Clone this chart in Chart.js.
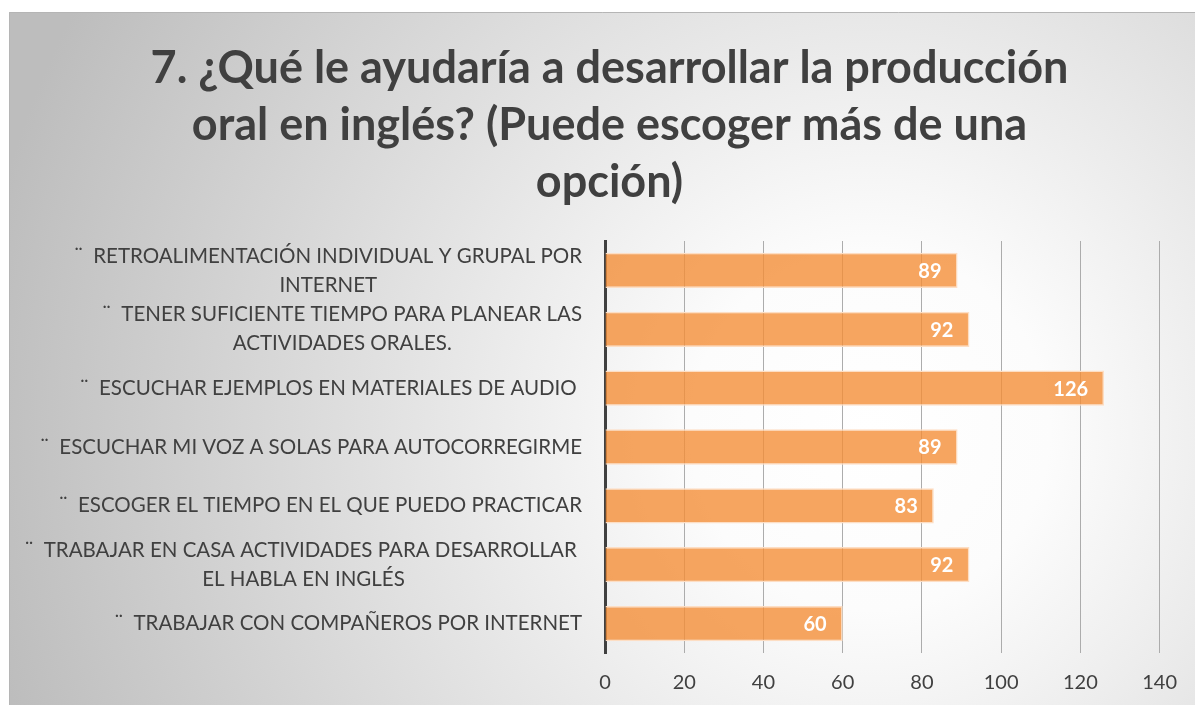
<!DOCTYPE html>
<html>
<head>
<meta charset="utf-8">
<script src="https://cdn.jsdelivr.net/npm/chart.js@4/dist/chart.umd.min.js"></script>
<style>
html,body{margin:0;padding:0;background:#fff;}
#wrap{width:1195px;height:705px;position:relative;}
</style>
</head>
<body>
<div id="wrap"><canvas id="c" width="1195" height="705"></canvas></div>
<script>
const titleLines = ["7. ¿Qué le ayudaría a desarrollar la producción", "oral en inglés? (Puede escoger más de una", "opción)"];
const categories = [
  ["¨  RETROALIMENTACIÓN INDIVIDUAL Y GRUPAL POR", "INTERNET"],
  ["¨  TENER SUFICIENTE TIEMPO PARA PLANEAR LAS", "ACTIVIDADES ORALES."],
  ["¨  ESCUCHAR EJEMPLOS EN MATERIALES DE AUDIO "],
  ["¨  ESCUCHAR MI VOZ A SOLAS PARA AUTOCORREGIRME"],
  ["¨  ESCOGER EL TIEMPO EN EL QUE PUEDO PRACTICAR"],
  ["¨  TRABAJAR EN CASA ACTIVIDADES PARA DESARROLLAR ", "EL HABLA EN INGLÉS"],
  ["¨  TRABAJAR CON COMPAÑEROS POR INTERNET"]
];
const values = [89, 92, 126, 89, 83, 92, 60];
const xTicks = [0, 20, 40, 60, 80, 100, 120, 140];

const FONT = "Lato";
const TEXT = "#404040";

const bgPlugin = {
  id: 'bg',
  beforeDraw(chart) {
    const ctx = chart.ctx;
    ctx.save();
    ctx.fillStyle = '#ffffff';
    ctx.fillRect(0, 0, chart.width, chart.height);
    const g = ctx.createRadialGradient(870, 430, 0, 870, 430, 900);
    g.addColorStop(0, '#ffffff');
    g.addColorStop(0.2, '#fcfcfc');
    g.addColorStop(1, '#bdbdbd');
    ctx.fillStyle = g;
    ctx.fillRect(9, 12, chart.width - 9, chart.height - 12);
    ctx.strokeStyle = '#b5b5b5';
    ctx.lineWidth = 1;
    ctx.beginPath();
    ctx.moveTo(9.5, chart.height);
    ctx.lineTo(9.5, 12.5);
    ctx.lineTo(chart.width, 12.5);
    ctx.stroke();
    ctx.restore();
  }
};

const yLabelPlugin = {
  id: 'ylabels',
  afterDraw(chart) {
    const ctx = chart.ctx;
    const ys = chart.scales.y;
    const right = chart.chartArea.left - 23;
    const lh = 29;
    ctx.save();
    ctx.font = "20.5px " + FONT;
    ctx.fillStyle = TEXT;
    ctx.textAlign = 'center';
    ctx.textBaseline = 'middle';
    categories.forEach((lines, i) => {
      const cy = ys.getPixelForValue(i);
      const w = Math.max(...lines.map(l => ctx.measureText(l).width));
      const cx = right - w / 2;
      const y0 = cy - (lines.length - 1) * lh / 2;
      lines.forEach((l, j) => ctx.fillText(l, cx, y0 + j * lh));
    });
    ctx.restore();
  }
};

const valueLabelPlugin = {
  id: 'vlabels',
  afterDatasetsDraw(chart) {
    const ctx = chart.ctx;
    const meta = chart.getDatasetMeta(0);
    ctx.save();
    ctx.font = "bold 20px " + FONT;
    ctx.fillStyle = '#ffffff';
    ctx.textAlign = 'right';
    ctx.textBaseline = 'middle';
    meta.data.forEach((bar, i) => {
      ctx.fillText(String(values[i]), bar.x - 16, bar.y + 1);
    });
    ctx.restore();
  }
};

new Chart(document.getElementById('c'), {
  type: 'bar',
  data: {
    labels: categories,
    datasets: [{
      data: values,
      backgroundColor: 'rgba(244,143,56,0.8)',
      borderColor: 'rgba(253,222,196,1)',
      borderWidth: 1.5,
      categoryPercentage: 0.6,
      barPercentage: 1
    }]
  },
  options: {
    indexAxis: 'y',
    responsive: false,
    animation: false,
    devicePixelRatio: 1,
    layout: { padding: { left: 59, right: 35, top: 12, bottom: 0 } },
    plugins: {
      legend: { display: false },
      tooltip: { enabled: false },
      title: {
        display: true,
        text: titleLines,
        color: TEXT,
        font: { family: FONT, size: 45, weight: 'bold', lineHeight: 57 / 45 },
        padding: { top: 28, bottom: 30 }
      }
    },
    scales: {
      x: {
        min: 0, max: 140,
        afterBuildTicks(scale) { scale.ticks = xTicks.map(v => ({ value: v })); },
        ticks: { color: TEXT, font: { family: FONT, size: 20 }, padding: 18 },
        grid: {
          drawTicks: false,
          color: (c) => (c.tick && c.tick.value === 0) ? 'rgba(0,0,0,0)' : '#acacac',
          lineWidth: 1
        },
        border: { display: false },
        afterFit(scale) { scale.height = 52; }
      },
      y: {
        ticks: { display: false },
        grid: { display: false },
        border: { display: true, color: '#404040', width: 3 },
        afterFit(scale) { scale.width = 546; }
      }
    }
  },
  plugins: [bgPlugin, yLabelPlugin, valueLabelPlugin]
});
</script>
</body>
</html>
